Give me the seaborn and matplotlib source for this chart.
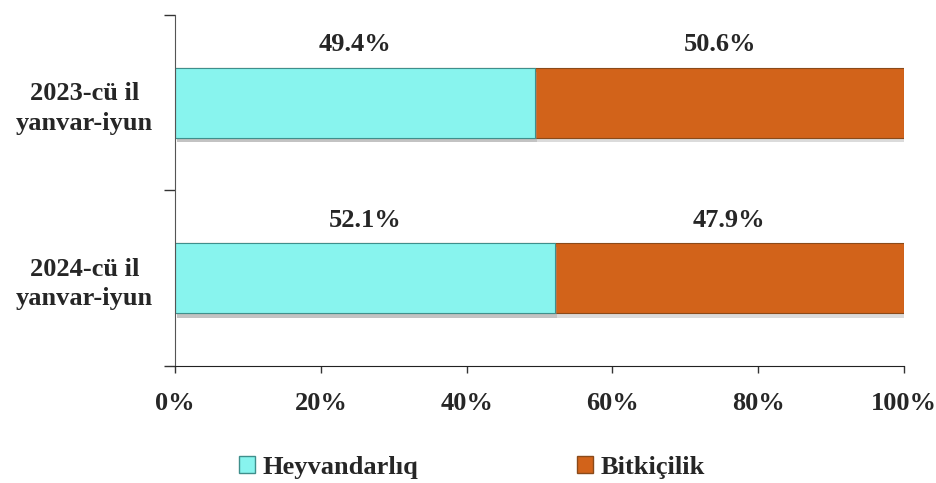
import pandas as pd
import seaborn as sns
import matplotlib.pyplot as plt
import matplotlib.patheffects as pe
from matplotlib.patches import Patch
from matplotlib.ticker import FuncFormatter

periods = ['2023-cü il\nyanvar-iyun', '2024-cü il\nyanvar-iyun']
heyvandarliq = [49.4, 52.1]
bitkicilik = [50.6, 47.9]

cyan = '#88F4EE'
orange = '#D2631A'

df = pd.DataFrame({'period': periods, 'heyv': heyvandarliq, 'bitk': bitkicilik})
df['total'] = df['heyv'] + df['bitk']

sns.set_style('white')
plt.rcParams['font.family'] = ['Liberation Serif', 'DejaVu Serif']
plt.rcParams['font.weight'] = 'bold'
FS = 19

fig = plt.figure(figsize=(9.37, 4.83), dpi=100)
ax = fig.add_axes([0.1868, 0.2422, 0.7780, 0.7268])

# orange full bar first, cyan part on top
sns.barplot(data=df, x='total', y='period', color=orange, width=0.4,
            edgecolor='#8a4a1a', linewidth=0.8, saturation=1, ax=ax)
sns.barplot(data=df, x='heyv', y='period', color=cyan, width=0.4,
            edgecolor='#3f8f8c', linewidth=0.8, saturation=1, ax=ax)
shadow = [pe.SimplePatchShadow(offset=(1.5, -3), shadow_rgbFace='#999999', alpha=0.35), pe.Normal()]
for p in ax.patches:
    p.set_path_effects(shadow)

# value labels above each segment
for i, row in df.iterrows():
    ax.text(row['heyv'] / 2, i - 0.33, f"{row['heyv']:.1f}%", ha='center', va='center',
            fontsize=FS, fontweight='bold')
    ax.text(row['heyv'] + row['bitk'] / 2, i - 0.33, f"{row['bitk']:.1f}%", ha='center',
            va='center', fontsize=FS, fontweight='bold')

ax.set_xlim(0, 100)
ax.set_ylim(1.5, -0.5)
ax.set_xticks([0, 20, 40, 60, 80, 100])
ax.xaxis.set_major_formatter(FuncFormatter(lambda v, p: f'{v:.0f}%'))
ax.set_yticks([-0.5, 0.5, 1.5])
ax.set_yticklabels([])
ax.set_yticks([0, 1], minor=True)
ax.set_yticklabels(periods, minor=True)
ax.tick_params(axis='y', which='major', length=8, width=1, color='#333333', direction='out', left=True)
ax.tick_params(axis='y', which='minor', length=0, pad=16, labelsize=FS)
ax.tick_params(axis='x', length=5, width=1, color='#333333', direction='out', bottom=True,
               labelsize=FS, pad=14)
for lab in ax.get_yticklabels(minor=True):
    lab.set_fontweight('bold')
    lab.set_multialignment('center')
    lab.set_linespacing(1.35)
for lab in ax.get_xticklabels():
    lab.set_fontweight('bold')

ax.set_xlabel('')
ax.set_ylabel('')
sns.despine(ax=ax, top=True, right=True)
ax.spines['left'].set_color('#555555')
ax.spines['bottom'].set_color('#222222')

handles = [Patch(facecolor=cyan, edgecolor='#3f8f8c'), Patch(facecolor=orange, edgecolor='#8a4a1a')]
fig.legend(handles, ['Heyvandarlıq', 'Bitkiçilik'], loc='center', bbox_to_anchor=(0.504, 0.032),
           ncol=2, frameon=False, columnspacing=6, handlelength=0.6,
           handleheight=0.6, handletextpad=0.3, prop={'weight': 'bold', 'size': FS})

fig.savefig('out.png', dpi=100)
